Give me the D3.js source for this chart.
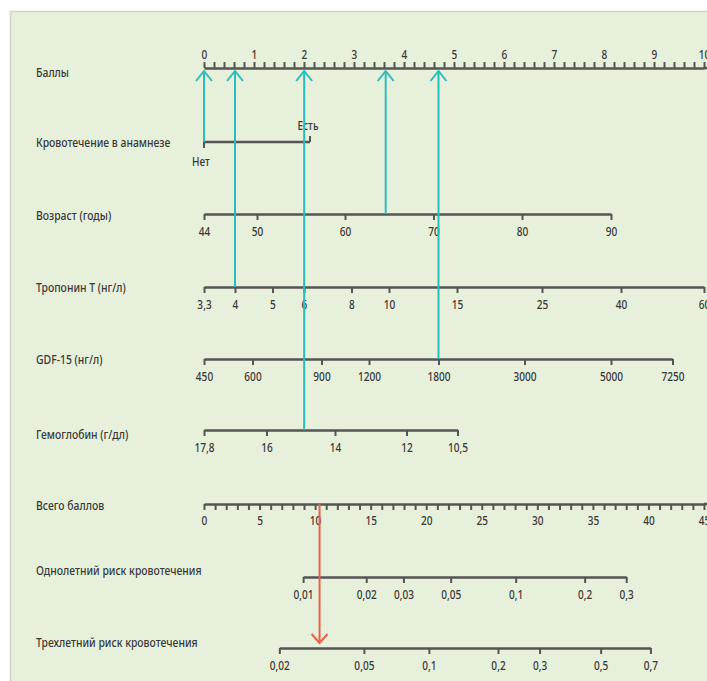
<!DOCTYPE html>
<html><head><meta charset="utf-8">
<script src="https://cdn.jsdelivr.net/npm/d3@7"></script>
<style>
html,body{margin:0;padding:0;background:#fff;}
svg{display:block;}
text{font-family:"Noto Sans",sans-serif;font-weight:500;fill:#383838;}
</style></head>
<body>
<svg id="c" width="707" height="681"></svg>
<script>
// ---- data ----
const rowLabels = ["Баллы","Кровотечение в анамнезе","Возраст (годы)","Тропонин T (нг/л)","GDF-15 (нг/л)","Гемоглобин (г/дл)","Всего баллов","Однолетний риск кровотечения","Трехлетний риск кровотечения"];
const bleedLabels = ["Нет","Есть"];
const bleedPoints = [0, 2.12];
const ageValues = [44,50,60,70,80,90];
const agePoints = [0,1.06,2.82,4.59,6.36,8.14];
const tropValues = [3.3,4,5,6,8,10,15,25,40,60];
const tropLabels = ["3,3","4","5","6","8","10","15","25","40","60"];
const tropPoints = [0,0.62,1.37,2.0,2.95,3.7,5.06,6.76,8.34,10];
const gdfValues = [450,600,900,1200,1800,3000,5000,7250];
const gdfPoints = [0,0.97,2.35,3.3,4.69,6.41,8.14,9.37];
const hgbValues = [17.8,16,14,12,10.5];
const hgbLabels = ["17,8","16","14","12","10,5"];
const hgbPoints = [0,1.25,2.62,4.05,5.07];
const risk1Values = [0.01,0.02,0.03,0.05,0.1,0.2,0.3];
const risk1Labels = ["0,01","0,02","0,03","0,05","0,1","0,2","0,3"];
const risk1Total = [8.92,14.6,17.95,22.2,28.05,34.26,38.0];
const risk3Values = [0.02,0.05,0.1,0.2,0.3,0.5,0.7];
const risk3Labels = ["0,02","0,05","0,1","0,2","0,3","0,5","0,7"];
const risk3Total = [6.78,14.39,20.24,26.46,30.2,35.7,40.18];
// example patient
const patient = {bleed:0, age:64.6, trop:4, gdf:1800, hgb:14.9};
const patientTotal = 10.4;

// ---- layout ----
const W = 707, H = 681;
const rowY = [68,142,214,287,359,430,504,577,648];
const labelY = [72,142,215,287,359,434,505,570,642];
const axisColor = "#555";
const teal = "#2bbcbc", red = "#e8604c";
const SX = 0.8; // condensed look

const svg = d3.select("#c");
svg.append("rect").attr("x",10).attr("y",11).attr("width",W).attr("height",H).attr("fill","#e7f0da");
svg.append("line").attr("x1",10).attr("x2",W).attr("y1",11.5).attr("y2",11.5).attr("stroke","#cfd3cc").attr("stroke-width",1.5);
svg.append("line").attr("x1",10.5).attr("x2",10.5).attr("y1",11).attr("y2",H).attr("stroke","#cfd3cc").attr("stroke-width",1.5);

const pointsScale = d3.scaleLinear().domain([0,10]).range([204,704]);
const totalScale = d3.scaleLinear().domain([0,45]).range([204,704]);

// row labels
svg.append("g").selectAll("text").data(rowLabels).join("text")
  .attr("transform",(d,i)=>`translate(36,${labelY[i]}) scale(${SX},1)`).attr("dy","0.35em")
  .attr("font-size",13).text(d=>d);

function styleAxis(g){
  g.selectAll(".domain").attr("stroke",axisColor).attr("stroke-width",2.6);
  g.selectAll(".tick line").attr("stroke",axisColor).attr("stroke-width",2);
  g.selectAll(".tick text").attr("font-size",12.3).attr("fill","#383838")
   .attr("font-family",null).attr("transform",`scale(${SX+0.02},1)`);
}

// points axis
const pTicks = d3.range(0,51).map(i=>i/5);
const gP = svg.append("g").attr("transform",`translate(0,${rowY[0]})`)
  .call(d3.axisTop(pointsScale).tickValues(pTicks).tickSize(6).tickSizeOuter(0).tickPadding(3)
    .tickFormat(d=>Math.abs(d-Math.round(d))<1e-6 ? String(Math.round(d)) : ""));
styleAxis(gP);
gP.append("line").attr("x1",704).attr("x2",W).attr("stroke",axisColor).attr("stroke-width",2.6);

// bleeding history
const bleedScale = d3.scaleLinear().domain([0,1]).range(bleedPoints.map(pointsScale));
const gB = svg.append("g").attr("transform",`translate(0,${rowY[1]})`);
gB.append("line").attr("x1",bleedScale(0)).attr("x2",bleedScale(1)).attr("stroke",axisColor).attr("stroke-width",2.6);
gB.append("line").attr("x1",bleedScale(0)).attr("x2",bleedScale(0)).attr("y1",0).attr("y2",6).attr("stroke",axisColor).attr("stroke-width",2);
gB.append("line").attr("x1",bleedScale(1)).attr("x2",bleedScale(1)).attr("y1",0).attr("y2",-6).attr("stroke",axisColor).attr("stroke-width",2);
gB.append("text").attr("transform",`translate(${bleedScale(0)-3},20) scale(${SX},1)`).attr("dy","0.35em").attr("text-anchor","middle").attr("font-size",12.5).text(bleedLabels[0]);
gB.append("text").attr("transform",`translate(${bleedScale(1)-2},-16) scale(${SX},1)`).attr("dy","0.35em").attr("text-anchor","middle").attr("font-size",12.5).text(bleedLabels[1]);

function varAxis(values, pts, labels, y, mapper){
  const sc = d3.scaleLinear().domain(values).range(pts.map(mapper));
  const g = svg.append("g").attr("transform",`translate(0,${y})`)
    .call(d3.axisBottom(sc).tickValues(values).tickSize(6).tickSizeOuter(0).tickPadding(7.5)
      .tickFormat((d,i)=>labels[i]));
  styleAxis(g);
  return sc;
}
const ageScale = varAxis(ageValues, agePoints, ageValues.map(String), rowY[2], pointsScale);
const tropScale = varAxis(tropValues, tropPoints, tropLabels, rowY[3], pointsScale);
const gdfScale = varAxis(gdfValues, gdfPoints, gdfValues.map(String), rowY[4], pointsScale);
const hgbScale = varAxis(hgbValues, hgbPoints, hgbLabels, rowY[5], pointsScale);

// total points axis
const gT = svg.append("g").attr("transform",`translate(0,${rowY[6]})`)
  .call(d3.axisBottom(totalScale).tickValues(d3.range(0,46)).tickSize(6).tickSizeOuter(0).tickPadding(6.5)
    .tickFormat(d=>d%5===0?String(d):""));
styleAxis(gT);
gT.append("line").attr("x1",704).attr("x2",W).attr("stroke",axisColor).attr("stroke-width",2.6);

varAxis(risk1Values, risk1Total, risk1Labels, rowY[7], totalScale);
varAxis(risk3Values, risk3Total, risk3Labels, rowY[8], totalScale);

// teal arrows
const arrows = [
  {x: bleedScale(patient.bleed), y: rowY[1]},
  {x: tropScale(patient.trop), y: rowY[3]},
  {x: hgbScale(patient.hgb), y: rowY[5]},
  {x: ageScale(patient.age), y: rowY[2]},
  {x: gdfScale(patient.gdf), y: rowY[4]}
];
const tipY = rowY[0]+3;
const ga = svg.append("g").attr("stroke",teal).attr("stroke-width",2).attr("fill","none");
arrows.forEach(a=>{
  ga.append("line").attr("x1",a.x).attr("x2",a.x).attr("y1",tipY).attr("y2",a.y);
  ga.append("polyline").attr("points",`${a.x-8},${tipY+10} ${a.x},${tipY} ${a.x+8},${tipY+10}`);
});

// red arrow
const rx = totalScale(patientTotal);
const rTip = rowY[8]-5;
const gr = svg.append("g").attr("stroke",red).attr("stroke-width",2).attr("fill","none");
gr.append("line").attr("x1",rx).attr("x2",rx).attr("y1",rowY[6]).attr("y2",rTip);
gr.append("polyline").attr("points",`${rx-8},${rTip-9} ${rx},${rTip} ${rx+8},${rTip-9}`);
</script>
</body></html>
